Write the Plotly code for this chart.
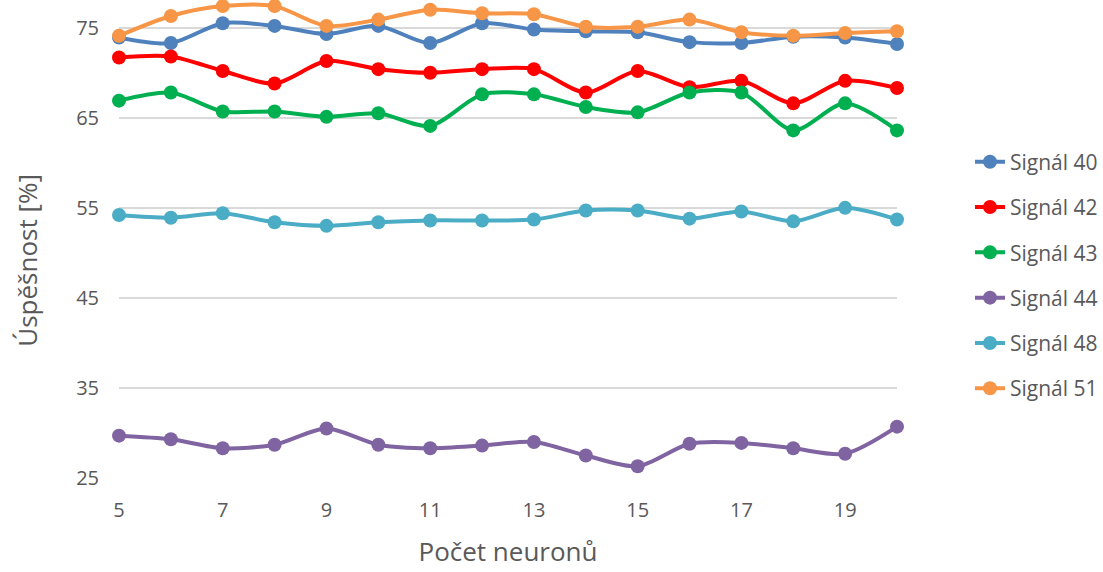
import plotly.graph_objects as go

neurons = list(range(5, 21))

signal_40 = [73.9, 73.3, 75.5, 75.2, 74.3, 75.2, 73.3, 75.5, 74.8, 74.6, 74.5, 73.4, 73.3, 74.0, 73.9, 73.2]
signal_42 = [71.7, 71.8, 70.2, 68.8, 71.3, 70.4, 70.0, 70.4, 70.4, 67.8, 70.2, 68.4, 69.1, 66.6, 69.1, 68.3]
signal_43 = [66.9, 67.8, 65.7, 65.7, 65.1, 65.5, 64.1, 67.6, 67.6, 66.2, 65.6, 67.8, 67.8, 63.6, 66.6, 63.6]
signal_44 = [29.7, 29.3, 28.3, 28.7, 30.5, 28.7, 28.3, 28.6, 29.0, 27.5, 26.3, 28.8, 28.9, 28.3, 27.7, 30.7]
signal_48 = [54.2, 53.9, 54.4, 53.4, 53.0, 53.4, 53.6, 53.6, 53.7, 54.7, 54.7, 53.8, 54.6, 53.5, 55.0, 53.7]
signal_51 = [74.1, 76.3, 77.4, 77.4, 75.2, 75.9, 77.0, 76.6, 76.5, 75.1, 75.1, 75.9, 74.5, 74.1, 74.4, 74.6]

series_names = ["Signál 40", "Signál 42", "Signál 43", "Signál 44", "Signál 48", "Signál 51"]
series_values = [signal_40, signal_42, signal_43, signal_44, signal_48, signal_51]
colors = ["#4F81BD", "#FF0000", "#00B050", "#8064A2", "#4BACC6", "#F79646"]

x_ticks = [5, 7, 9, 11, 13, 15, 17, 19]
y_ticks = [25, 35, 45, 55, 65, 75]

FONT = "Open Sans"
TEXT = "#595959"

fig = go.Figure()
for i, (name, vals, col) in enumerate(zip(series_names, series_values, colors)):
    fig.add_trace(go.Scatter(
        x=neurons, y=vals, name=name, mode="lines+markers",
        line=dict(color=col, width=4, shape="spline", smoothing=0.8),
        marker=dict(color=col, size=14),
        cliponaxis=False, legendgroup=name,
    ))

fig.update_layout(
    width=1103, height=572,
    margin=dict(l=119, r=201, t=0, b=94),
    paper_bgcolor="white", plot_bgcolor="white",
    font=dict(family=FONT, color=TEXT, size=20),
    showlegend=True,
    legend=dict(x=1.0945, y=0.7038, xanchor="left", yanchor="top",
                font=dict(family=FONT, size=21, color=TEXT),
                tracegroupgap=15, bgcolor="rgba(0,0,0,0)"),
    xaxis=dict(range=[5, 20], tickvals=x_ticks, ticktext=[str(v) for v in x_ticks],
               showgrid=False, zeroline=False, showline=False,
               ticks="", ticklabelstandoff=18,
               tickfont=dict(family=FONT, size=20, color=TEXT),
               title=dict(text="Počet neuronů", font=dict(family=FONT, size=26, color=TEXT), standoff=20)),
    yaxis=dict(range=[25, 75 + 27.7 / 9], tickvals=y_ticks, ticktext=[str(v) for v in y_ticks],
               showgrid=True, gridcolor="#D9D9D9", gridwidth=1.5, zeroline=False, showline=False,
               ticks="", ticklabelstandoff=19,
               tickfont=dict(family=FONT, size=20, color=TEXT)),
    annotations=[dict(text="Úspěšnost [%]", xref="paper", yref="paper",
                      x=-0.1175, y=0.4557,
                      xanchor="center", yanchor="middle", textangle=-90, showarrow=False,
                      font=dict(family=FONT, size=26, color=TEXT))],
)

fig.write_html("out.html", config={"displayModeBar": False},
               post_script="document.body.style.margin='0px';document.body.style.overflow='hidden';")
